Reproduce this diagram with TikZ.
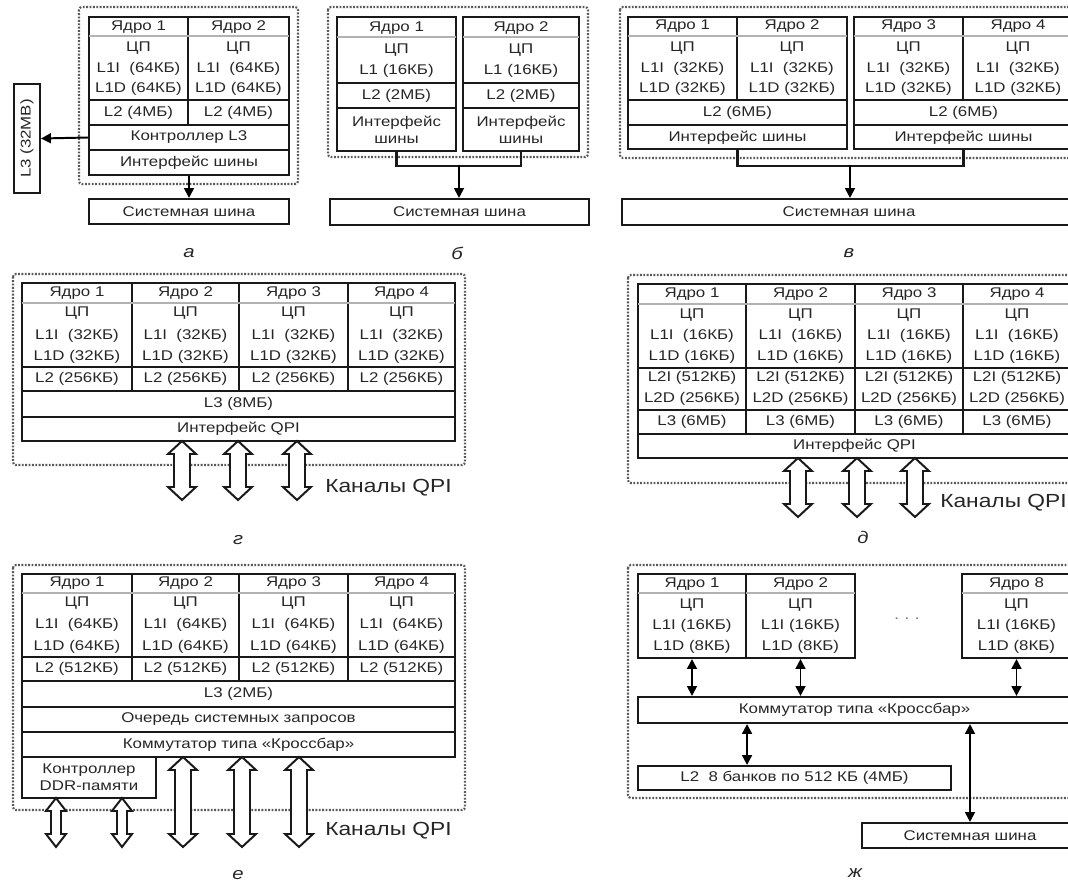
\documentclass[tikz,border=0pt]{standalone}
\usepackage{fontspec}
\setmainfont{Liberation Sans}[FakeStretch=1.2]
\usetikzlibrary{arrows.meta, fit}

\newcommand{\cellfont}{\fontsize{10}{12}\selectfont}
% hollow double arrow: x, top, bottom, half shaft, half head
\newcommand{\qpiarr}[5]{%
  \draw[hollow] (#1,#2) -- (#1+#5,#2+13) -- (#1+#4,#2+13) -- (#1+#4,#3-13) -- (#1+#5,#3-13) -- (#1,#3)
    -- (#1-#5,#3-13) -- (#1-#4,#3-13) -- (#1-#4,#2+13) -- (#1-#5,#2+13) -- cycle;}

\begin{document}
\begin{tikzpicture}[x=0.025cm, y=-0.025cm,
  frame/.style={draw=black!65, line width=1.5pt, dash pattern=on 1.3pt off 1.1pt, rounded corners=2pt},
  cell/.style={draw=black!90, line width=1.5pt, inner sep=0pt},
  hdr/.style={draw=black!30, line width=1pt},
  txt/.style={inner sep=0pt, font=\cellfont, text=black!85},
  lbl/.style={font=\fontsize{12}{14}\selectfont\itshape, text=black!85},
  chan/.style={anchor=west, inner sep=0pt, font=\fontsize{13.5}{16}\selectfont, text=black!85},
  arr/.style={line width=1.4pt, -{Triangle[length=7pt,width=7pt]}},
  darr/.style={line width=1.4pt, {Triangle[length=7pt,width=7pt]}-{Triangle[length=7pt,width=7pt]}},
  hollow/.style={draw=black!90, fill=white, line width=1.4pt}]
\useasboundingbox (0,0) rectangle (1068,882);
\clip (0,0) rectangle (1068,882);

% --- a ---
\draw[frame] (79,7) rectangle (298,184);
\draw[cell] (89,17) rectangle (289,125);
\draw[cell] (188,17) -- (188,125) (89,100) -- (289,100);
\draw[hdr] (89,36) -- (289,36);
\foreach \n/\x in {1/138.5,2/238.5} {
  \node[txt] at (\x,27) {Ядро \n};
  \node[txt] at (\x,48) {ЦП};
  \node[txt] at (\x,69) {L1I\ \ (64КБ)};
  \node[txt] at (\x,89) {L1D (64КБ)};
  \node[txt] at (\x,113) {L2 (4МБ)};
}
\node[cell, fit={(89,125) (289,150)}] (ctlA) {};
\node[cell, fit={(89,150) (289,175)}] (busifA) {};
\node[cell, fit={(89,199) (289,224)}] (sysA) {};
\node[cell, fit={(14,84) (40,193)}] (l3A) {};
\node[txt] at (ctlA) {Контроллер L3};
\node[txt] at (busifA) {Интерфейс шины};
\node[txt] at (sysA) {Системная шина};
\node[txt, rotate=90] at (l3A) {L3 (32MB)};
\draw[arr] (ctlA.west) -- (l3A.east);
\draw[arr] (busifA.south) -- (sysA.north);
\node[lbl] at (189,253) {а};

% --- b ---
\draw[frame] (328,7) rectangle (588,157);
\foreach \n/\xa/\xb in {1/337/456,2/463/579} {
  \node[cell, fit={(\xa,17) (\xb,151)}] (coreB\n) {};
  \draw[cell] (\xa,83) -- (\xb,83) (\xa,108) -- (\xb,108);
  \draw[hdr] (\xa,37) -- (\xb,37);
  \node[txt] at ({(\xa+\xb)/2},28) {Ядро \n};
  \node[txt] at ({(\xa+\xb)/2},50) {ЦП};
  \node[txt] at ({(\xa+\xb)/2},71) {L1 (16КБ)};
  \node[txt] at ({(\xa+\xb)/2},96) {L2 (2МБ)};
  \node[txt, align=center] at ({(\xa+\xb)/2},130) {Интерфейс\\шины};
}
\node[cell, fit={(330,199) (589,225)}] (sysB) {};
\node[txt] at (sysB) {Системная шина};
\draw[cell] (coreB1.south) -- ++(0,14) -| (coreB2.south);
\coordinate (jB) at (459,165);
\draw[arr] (jB) -- (jB |- sysB.north);
\node[lbl] at (457,253) {б};

% --- v ---
\draw[frame] (620,7) rectangle (1085,158);
\foreach \g/\xa/\xm/\xb in {L/628/737/847,R/854/963/1073} {
  \node[cell, fit={(\xa,17) (\xb,149)}] (grpV\g) {};
  \draw[cell] (\xm,17) -- (\xm,100) (\xa,100) -- (\xb,100) (\xa,125) -- (\xb,125);
  \draw[hdr] (\xa,36) -- (\xb,36);
  \node[txt] at ({(\xa+\xb)/2},113) {L2 (6МБ)};
  \node[txt] at ({(\xa+\xb)/2},138) {Интерфейс шины};
}
\foreach \n/\x in {1/682.5,2/792,3/908.5,4/1018} {
  \node[txt] at (\x,26) {Ядро \n};
  \node[txt] at (\x,48) {ЦП};
  \node[txt] at (\x,69) {L1I\ \ (32КБ)};
  \node[txt] at (\x,89) {L1D (32КБ)};
}
\node[cell, fit={(622,199) (1076,225)}] (sysV) {};
\node[txt] at (sysV) {Системная шина};
\draw[cell] (grpVL.south) -- ++(0,16) -| (grpVR.south);
\coordinate (jV) at (850,165);
\draw[arr] (jV) -- (jV |- sysV.north);
\node[lbl] at (849,253) {в};

% --- g ---
\draw[frame] (13,274) rectangle (465,465);
\draw[cell] (22,283) rectangle (455,391);
\draw[cell] (132,283) -- (132,391) (239,283) -- (239,391) (348,283) -- (348,391) (22,367) -- (455,367);
\draw[hdr] (22,303) -- (455,303);
\foreach \n/\x in {1/77,2/185.5,3/293.5,4/401.5} {
  \node[txt] at (\x,293) {Ядро \n};
  \node[txt] at (\x,313) {ЦП};
  \node[txt] at (\x,336) {L1I\ \ (32КБ)};
  \node[txt] at (\x,357) {L1D (32КБ)};
  \node[txt] at (\x,379) {L2 (256КБ)};
}
\node[cell, fit={(22,391) (455,417)}] (l3G) {};
\node[cell, fit={(22,417) (455,441)}] (qpiG) {};
\node[txt] at (l3G) {L3 (8МБ)};
\node[txt] at (qpiG) {Интерфейс QPI};
\foreach \x in {182,238,297} {\qpiarr{\x}{441}{500}{8}{14}}
\node[chan] at (325,488) {Каналы QPI};
\node[lbl] at (238,540) {г};

% --- d ---
\draw[frame] (628,275) rectangle (1085,483);
\draw[cell] (638,284) rectangle (1071,434);
\draw[cell] (746,284) -- (746,434) (855,284) -- (855,434) (963,284) -- (963,434) (638,368) -- (1071,368) (638,410) -- (1071,410);
\draw[hdr] (638,304) -- (1071,304);
\foreach \n/\x in {1/692,2/800.5,3/909,4/1017} {
  \node[txt] at (\x,294) {Ядро \n};
  \node[txt] at (\x,315) {ЦП};
  \node[txt] at (\x,336) {L1I\ \ (16КБ)};
  \node[txt] at (\x,357) {L1D (16КБ)};
  \node[txt] at (\x,378) {L2I (512КБ)};
  \node[txt] at (\x,399) {L2D (256КБ)};
  \node[txt] at (\x,422) {L3 (6МБ)};
}
\node[cell, fit={(638,434) (1071,458)}] (qpiD) {};
\node[txt] at (qpiD) {Интерфейс QPI};
\foreach \x in {798,857,915} {\qpiarr{\x}{458}{517}{8}{14}}
\node[chan] at (940,503) {Каналы QPI};
\node[lbl] at (863,537) {д};

% --- e ---
\draw[frame] (13,565) rectangle (465,810);
\draw[cell] (22,574) rectangle (455,681);
\draw[cell] (132,574) -- (132,681) (239,574) -- (239,681) (348,574) -- (348,681) (22,657) -- (455,657);
\draw[hdr] (22,593) -- (455,593);
\foreach \n/\x in {1/77,2/185.5,3/293.5,4/401.5} {
  \node[txt] at (\x,583) {Ядро \n};
  \node[txt] at (\x,603) {ЦП};
  \node[txt] at (\x,625) {L1I\ \ (64КБ)};
  \node[txt] at (\x,647) {L1D (64КБ)};
  \node[txt] at (\x,669) {L2 (512КБ)};
}
\node[cell, fit={(22,681) (455,707)}] (l3E) {};
\node[cell, fit={(22,707) (455,732)}] (queueE) {};
\node[cell, fit={(22,732) (455,757)}] (xbarE) {};
\node[cell, fit={(22,757) (156,798)}] (ddrE) {};
\node[txt] at (l3E) {L3 (2МБ)};
\node[txt] at (queueE) {Очередь системных запросов};
\node[txt] at (xbarE) {Коммутатор типа «Кроссбар»};
\node[txt, align=center] at (ddrE) {Контроллер\\DDR-памяти};
\foreach \x in {56,122} {\qpiarr{\x}{798}{847}{5}{10}}
\foreach \x in {183,242,299} {\qpiarr{\x}{757}{847}{8}{14}}
\node[chan] at (325,831) {Каналы QPI};
\node[lbl] at (238,875) {е};

% --- zh ---
\draw[frame] (628,565) rectangle (1085,798);
\foreach \n/\xa/\xb in {1/638/746,2/746/855,8/962/1071} {
  \node[cell, fit={(\xa,574) (\xb,658)}] (coreZ\n) {};
  \draw[hdr] (\xa,593) -- (\xb,593);
  \node[txt] at ({(\xa+\xb)/2},584) {Ядро \n};
  \node[txt] at ({(\xa+\xb)/2},605) {ЦП};
  \node[txt] at ({(\xa+\xb)/2},626) {L1I (16КБ)};
  \node[txt] at ({(\xa+\xb)/2},647) {L1D (8КБ)};
}
\node[txt, text=black!60] at (907,620) {· · ·};
\node[cell, fit={(638,697) (1071,723)}] (xbarZ) {};
\node[cell, fit={(638,766) (951,790)}] (l2Z) {};
\node[cell, fit={(862,823) (1078,848)}] (sysZ) {};
\node[txt] at (xbarZ) {Коммутатор типа «Кроссбар»};
\node[txt] at (l2Z) {L2\ \ 8 банков по 512 КБ (4МБ)};
\node[txt] at (sysZ.center -| 970,0) {Системная шина};
\foreach \n in {1,2,8} {
  \draw[darr] (coreZ\n.south) -- (coreZ\n.south |- xbarZ.north);
}
\draw[darr] (xbarZ.south -| coreZ1.east) -- (l2Z.north -| coreZ1.east);
\draw[darr] (sysZ.north |- xbarZ.south) -- (sysZ.north);
\node[lbl] at (855,873) {ж};
\end{tikzpicture}
\end{document}
